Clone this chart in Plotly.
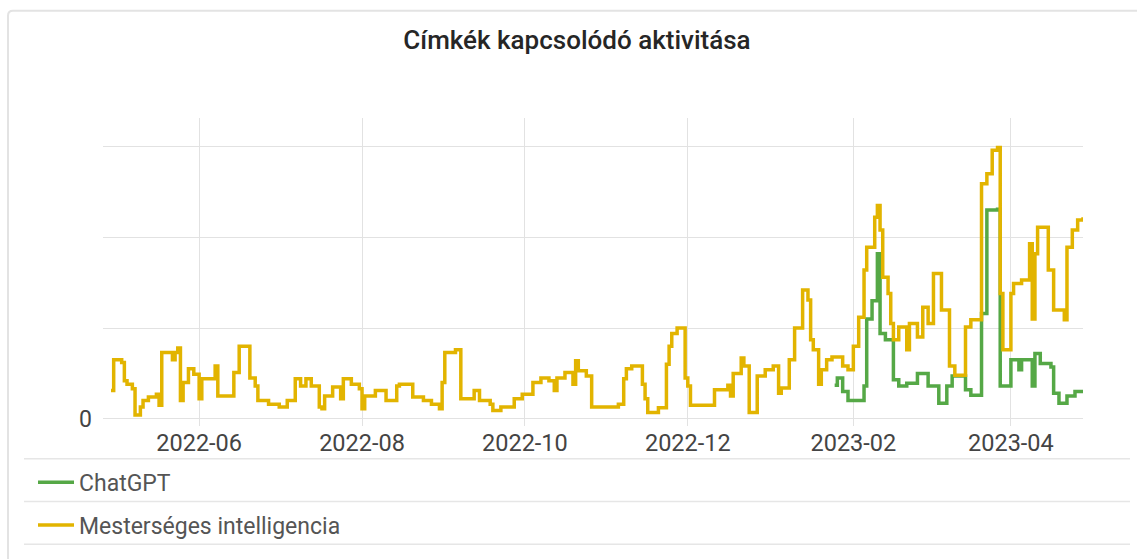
import pandas as pd
import plotly.graph_objects as go

# ---- data ----
base_date = "2022-06-01"

ai_days = [-33, -32, -29, -28, -27, -25, -24, -22, -21, -19, -16, -15, -14, -10, -9, -8, -7, -6, -4, -2,
           0, 1, 6, 7, 13, 15, 19, 21, 22, 26, 30, 33, 36, 38, 40, 42, 45, 46, 47, 50, 53, 54, 57, 60,
           61, 62, 66, 70, 74, 75, 80, 84, 87, 90, 91, 92, 96, 98, 103, 105, 109, 110, 113, 118, 121,
           125, 128, 131, 133, 134, 137, 140, 141, 142, 145, 147, 157, 159, 160, 162, 166, 167, 168,
           172, 175, 176, 177, 179, 182, 183, 184, 193, 198, 199, 200, 203, 204, 206, 209, 212, 215,
           217, 218, 221, 223, 226, 228, 229, 230, 232, 233, 235, 237, 241, 243, 245, 247, 249, 250,
           253, 254, 255, 256, 258, 259, 260, 262, 265, 266, 269, 271, 273, 275, 278, 281, 283, 287,
           289, 293, 295, 297, 299, 300, 301, 304, 305, 308, 311, 312, 313, 314, 318, 320, 324, 325,
           327, 329, 331]
ai_values = [0.31, 0.65, 0.62, 0.42, 0.38, 0.33, 0.04, 0.13, 0.20, 0.24, 0.27, 0.15, 0.73, 0.65, 0.73,
             0.78, 0.20, 0.40, 0.55, 0.49, 0.22, 0.44, 0.58, 0.25, 0.51, 0.80, 0.45, 0.36, 0.20, 0.16,
             0.13, 0.20, 0.44, 0.36, 0.44, 0.36, 0.13, 0.11, 0.25, 0.35, 0.22, 0.44, 0.38, 0.33, 0.11,
             0.25, 0.31, 0.20, 0.36, 0.38, 0.24, 0.20, 0.16, 0.11, 0.40, 0.73, 0.76, 0.22, 0.31, 0.20,
             0.16, 0.09, 0.13, 0.22, 0.27, 0.40, 0.45, 0.42, 0.31, 0.45, 0.51, 0.38, 0.64, 0.53, 0.47,
             0.13, 0.16, 0.44, 0.55, 0.58, 0.38, 0.22, 0.07, 0.12, 0.60, 0.80, 0.94, 1.00, 0.45, 0.36,
             0.15, 0.32, 0.37, 0.25, 0.50, 0.67, 0.58, 0.07, 0.47, 0.54, 0.58, 0.28, 0.34, 0.65, 1.00,
             1.42, 1.31, 0.87, 0.76, 0.38, 0.54, 0.65, 0.68, 0.58, 0.54, 0.80, 1.12, 1.64, 1.89, 2.22,
             2.35, 2.08, 1.56, 1.38, 1.05, 0.87, 1.01, 0.76, 1.05, 0.90, 1.23, 1.05, 1.60, 1.20, 0.58,
             0.48, 1.01, 1.09, 2.59, 2.70, 2.96, 2.99, 1.38, 0.76, 1.38, 1.49, 1.53, 1.93, 1.10, 1.82,
             2.11, 1.64, 1.20, 1.09, 1.89, 2.08, 2.19, 2.22]

gpt_days = [238, 239, 241, 243, 249, 250, 252, 254, 255, 257, 260, 262, 265, 269, 273, 277, 280, 282,
            287, 289, 293, 295, 299, 300, 304, 307, 308, 312, 313, 315, 319, 320, 322, 325, 328, 331]
gpt_values = [0.37, 0.45, 0.30, 0.20, 0.36, 1.10, 1.30, 1.82, 0.94, 0.87, 0.43, 0.36, 0.39, 0.50, 0.36,
              0.17, 0.36, 0.47, 0.32, 0.26, 1.16, 2.30, 2.31, 0.36, 0.65, 0.54, 0.65, 0.36, 0.72, 0.61,
              0.57, 0.28, 0.17, 0.25, 0.30, 0.30]

series_names = ["ChatGPT", "Mesterséges intelligencia"]
title_text = "Címkék kapcsolódó aktivitása"
y_tick_vals = [0, 1, 2, 3]
y_tick_text = ["0", "", "", ""]

# ---- build ----
base = pd.Timestamp(base_date)
ai_dates = base + pd.to_timedelta(ai_days, unit="D")
gpt_dates = base + pd.to_timedelta(gpt_days, unit="D")

GREEN = "#55a846"
YELLOW = "#e2b400"
FONT = "Roboto, Arial, sans-serif"

fig = go.Figure()
fig.add_trace(go.Scatter(x=gpt_dates, y=gpt_values, mode="lines", name=series_names[0],
                         line=dict(color=GREEN, width=3.5, shape="hv"), legendgroup="g1"))
fig.add_trace(go.Scatter(x=ai_dates, y=ai_values, mode="lines", name=series_names[1],
                         line=dict(color=YELLOW, width=3.5, shape="hv"), legendgroup="g2"))

W, H = 1137, 559
L, R, T, B = 103, 1083, 118, 428


def px_x(p):
    return (p - L) / (R - L)


def px_y(p):
    return (B - p) / (B - T)


shapes = []
# card border (top + left, rounded corner)
x0, yt = px_x(8), px_y(10)
xr, yb = px_x(1150), px_y(575)
rx = 5 / (R - L)
ry = 5 / (B - T)
shapes.append(dict(type="path", xref="paper", yref="paper",
                   path=f"M {x0},{yb} L {x0},{yt - ry} Q {x0},{yt} {x0 + rx},{yt} L {xr},{yt}",
                   line=dict(color="#e3e3e3", width=2), layer="below"))
# legend separators
for yy in [461, 504, 547]:
    shapes.append(dict(type="line", xref="paper", yref="paper",
                       x0=px_x(24), x1=px_x(1130), y0=px_y(yy), y1=px_y(yy),
                       line=dict(color="#e6e6e6", width=1.5), layer="below"))

fig.update_layout(
    width=W, height=H,
    margin=dict(l=L, r=W - R, t=T, b=H - B, pad=0),
    paper_bgcolor="white", plot_bgcolor="white",
    font=dict(family=FONT, size=23, color="#444444"),
    title=dict(text=title_text, x=577 / W, xref="container", xanchor="center",
               y=1 - 40 / H, yref="container", yanchor="middle",
               font=dict(family=FONT, size=26, color="#262626", weight=500)),
    xaxis=dict(type="date", range=["2022-04-26", "2023-04-28"],
               tick0="2022-06-01", dtick="M2", tickformat="%Y-%m",
               showgrid=True, gridcolor="#e2e2e2", gridwidth=1,
               showline=False, zeroline=False, ticks="",
               tickfont=dict(size=23.5, color="#444444")),
    yaxis=dict(range=[-0.08, 3.315], tickvals=y_tick_vals, ticktext=y_tick_text,
               showgrid=True, gridcolor="#e2e2e2", gridwidth=1,
               showline=False, zeroline=False, ticks="", ticklabelstandoff=10,
               tickfont=dict(size=23, color="#444444")),
    showlegend=True,
    legend=dict(orientation="v", x=px_x(33), xanchor="left", y=px_y(463), yanchor="top",
                traceorder="grouped", tracegroupgap=10, itemwidth=36,
                font=dict(family=FONT, size=23, color="#555555"),
                bgcolor="rgba(0,0,0,0)"),
    shapes=shapes,
    hovermode="x",
)

fig.write_html("out.html", config={"displayModeBar": False},
               post_script="document.body.style.margin='0';")
